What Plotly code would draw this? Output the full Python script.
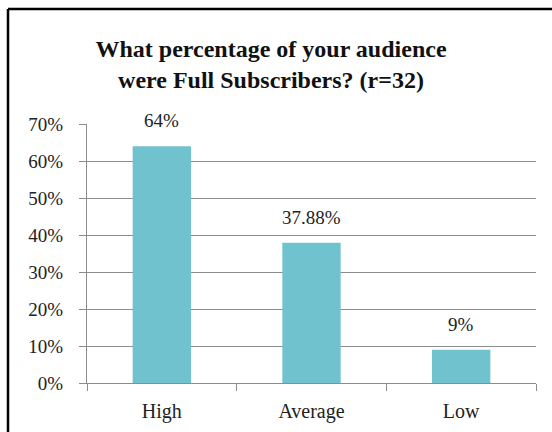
import plotly.graph_objects as go

categories = ["High", "Average", "Low"]
values = [64, 37.88, 9]
value_labels = ["64%", "37.88%", "9%"]
y_ticks = [0, 10, 20, 30, 40, 50, 60, 70]
y_tick_labels = ["0%", "10%", "20%", "30%", "40%", "50%", "60%", "70%"]
title_text = "What percentage of your audience<br>were Full Subscribers? (r=32)"

W, H = 552, 432
L, R, T, B = 87, 16, 124, 49
PW, PH = W - L - R, H - T - B

def px_x(x):
    return (x - L) / PW

def px_y(y):
    return (H - B - y) / PH

FONT = "Liberation Serif, Times New Roman, serif"
GRID = "#8c8c8c"

fig = go.Figure()
fig.add_trace(go.Bar(
    x=categories, y=values,
    marker=dict(color="#70C2CE", line=dict(width=0)),
    width=0.39,
    hoverinfo="skip",
))

for c, v, t in zip(categories, values, value_labels):
    fig.add_annotation(x=c, y=v, text=t, showarrow=False, xref="x", yref="y",
                       yanchor="bottom", yshift=13,
                       font=dict(family=FONT, size=19, color="#222222"))

# chart border (left and top edges visible)
fig.add_shape(type="line", xref="paper", yref="paper",
              x0=px_x(8), x1=px_x(560), y0=px_y(9), y1=px_y(9),
              line=dict(color="black", width=2.5))
fig.add_shape(type="line", xref="paper", yref="paper",
              x0=px_x(8), x1=px_x(8), y0=px_y(9), y1=px_y(440),
              line=dict(color="black", width=2.5))

fig.update_layout(
    width=W, height=H,
    margin=dict(l=L, r=R, t=T, b=B, autoexpand=False),
    paper_bgcolor="white", plot_bgcolor="white",
    showlegend=False,
    font=dict(family=FONT, size=19, color="#222222"),
    title=dict(text="<b>" + title_text + "</b>", x=271 / W, xanchor="center",
               y=1 - 57 / H, yanchor="middle", automargin=False,
               font=dict(family=FONT, size=24, color="#111111")),
    bargap=0.6,
)
fig.update_xaxes(
    type="category", showline=True, linecolor=GRID, linewidth=1.2,
    ticks="outside", ticklen=7, tickcolor=GRID, tickwidth=1.2,
    tickson="boundaries", ticklabelstandoff=10, automargin=False,
    showgrid=False, zeroline=False,
    tickfont=dict(family=FONT, size=20, color="#222222"),
)
fig.update_yaxes(
    range=[0, 70], tickvals=y_ticks, ticktext=y_tick_labels,
    showline=True, linecolor=GRID, linewidth=1.2,
    ticks="outside", ticklen=7, tickcolor=GRID, tickwidth=1.2,
    showgrid=True, gridcolor=GRID, gridwidth=1.2, automargin=False,
    zeroline=False, ticklabelstandoff=12,
    tickfont=dict(family=FONT, size=19, color="#222222"),
)

fig.write_html("out.html")
